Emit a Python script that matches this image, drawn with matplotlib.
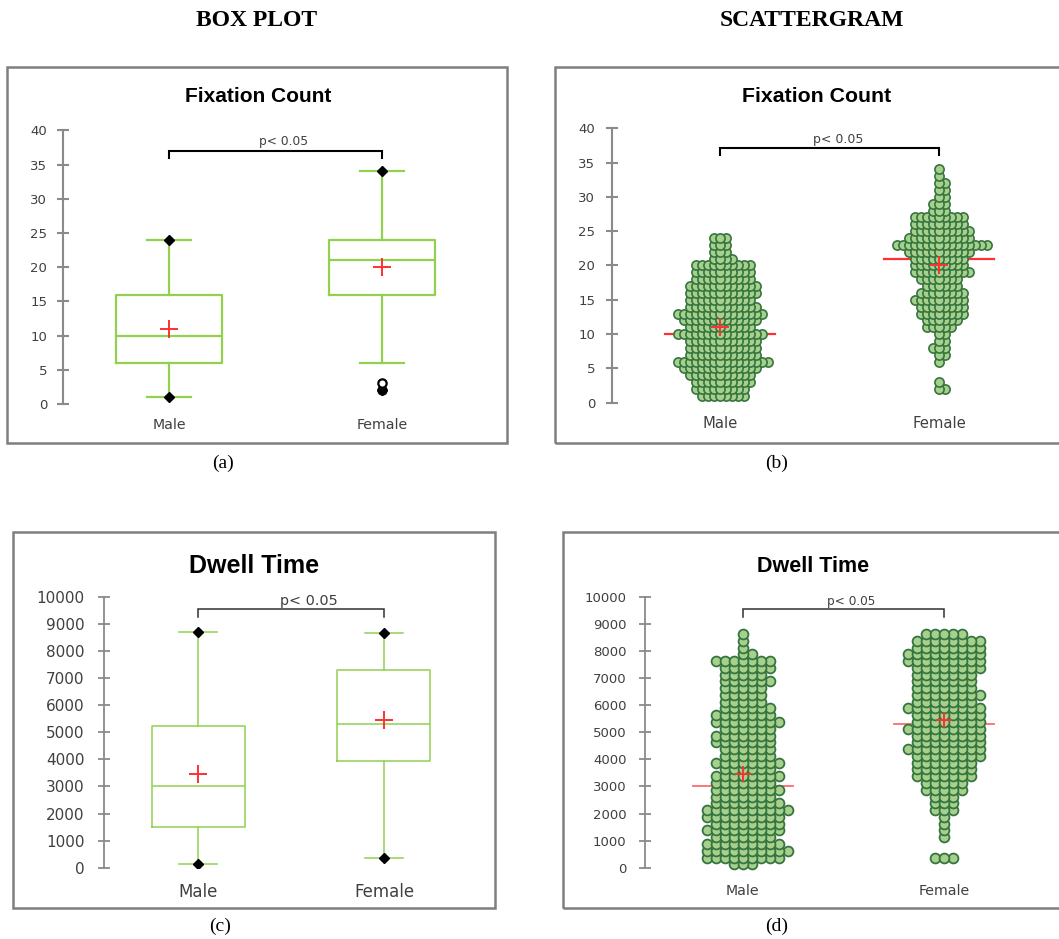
import numpy as np
import matplotlib.pyplot as plt
from matplotlib.patches import Rectangle

W, H = 1059, 939

groups = ['Male', 'Female']

# (a) fixation count box plot
fix_q1 = [6, 16]
fix_med = [10, 21]
fix_q3 = [16, 24]
fix_whislo = [1, 6]
fix_whishi = [24, 34]
fix_mean = [11, 20]
fix_min = [1, 2]
fix_max = [24, 34]
fix_out_filled = [[], [2]]
fix_out_open = [[], [3]]

# (b) fixation count scattergram: number of dots at each count value
fix_male_values = list(range(1, 25))
fix_male_counts = [8, 9, 10, 11, 13, 16, 12, 12, 12, 15, 11, 13,
                   15, 12, 11, 12, 12, 10, 10, 10, 4, 3, 3, 3]
fix_female_values = list(range(2, 35))
fix_female_counts = [2, 1, 0, 0, 1, 2, 3, 2, 2, 5, 6, 8, 8, 9, 8, 6, 7,
                     10, 9, 9, 11, 16, 11, 10, 9, 9, 3, 3, 2, 2, 2, 1, 1]

# (c) dwell time box plot (ms)
dwell_q1 = [1500, 3950]
dwell_med = [3000, 5300]
dwell_q3 = [5240, 7300]
dwell_whislo = [120, 350]
dwell_whishi = [8700, 8650]
dwell_mean = [3450, 5450]

# (d) dwell time scattergram: dots per 250 ms bin
dwell_bins = np.arange(125, 8750, 250)
dwell_male_counts = [3, 9, 10, 9, 7, 9, 8, 9, 10, 8, 7, 8, 7, 8, 6, 8, 6, 6,
                     7, 7, 6, 8, 7, 6, 5, 5, 5, 6, 5, 6, 7, 2, 1, 1, 1]
dwell_female_counts = [0, 3, 0, 0, 1, 1, 1, 1, 3, 3, 3, 5, 5, 7, 7, 7, 8, 9,
                       8, 8, 9, 8, 8, 9, 7, 8, 7, 7, 7, 8, 9, 9, 8, 8, 5]

green = '#92D050'
dot_face = '#A8D08D'
dot_edge = '#35753F'
red = '#FF3030'
axis_gray = '#8A8A8A'
text_gray = '#404040'

fig = plt.figure(figsize=(W / 100, H / 100), dpi=100)


def px_axes(x_axis, y_top, x_right, y_zero):
    return fig.add_axes([x_axis / W, 1 - y_zero / H,
                         (x_right - x_axis) / W, (y_zero - y_top) / H])


def style(ax, x_axis, x_male, x_female, x_right, ymax, yticks,
          tick_fs, cat_fs, tick_pad, cat_pad, lw):
    scale = x_female - x_male
    ax.set_xlim(1 - (x_male - x_axis) / scale, 2 + (x_right - x_female) / scale)
    ax.set_ylim(0, ymax)
    for s in ['top', 'right', 'bottom']:
        ax.spines[s].set_visible(False)
    ax.spines['left'].set_color(axis_gray)
    ax.spines['left'].set_linewidth(lw)
    ax.set_yticks(yticks)
    ax.tick_params(axis='y', direction='inout', length=8.5, width=lw,
                   color=axis_gray, labelcolor=text_gray, labelsize=tick_fs,
                   pad=tick_pad)
    ax.set_xticks([1, 2], groups)
    ax.tick_params(axis='x', length=0, labelsize=cat_fs, pad=cat_pad,
                   labelcolor=text_gray)
    ax.patch.set_alpha(0)
    return scale


def frame(x0, y0, x1, y1):
    fig.add_artist(Rectangle((x0 / W, 1 - y1 / H), (x1 - x0) / W, (y1 - y0) / H,
                             transform=fig.transFigure, fill=False,
                             ec='#7F7F7F', lw=1.8))


def bracket(ax, y, drop, text_x, text_y, fs, lw, color):
    ax.plot([1, 1, 2, 2], [drop, y, y, drop], color=color, lw=lw,
            clip_on=False, solid_joinstyle='miter')
    ax.text(text_x, text_y, 'p< 0.05', ha='center', va='center',
            fontsize=fs, color=text_gray, clip_on=False)


def swarm(values, counts, step_px, scale):
    xs, ys = [], []
    for v, n in zip(values, counts):
        row = [0]
        k = 1
        while len(row) < n:
            row.append(k * step_px)
            if len(row) < n:
                row.append(-k * step_px)
            k += 1
        for o in row[:n]:
            xs.append(o / scale)
            ys.append(v)
    xs, ys = np.array(xs), np.array(ys)
    order = np.argsort(-np.abs(xs), kind='stable')
    return xs[order], ys[order]


def box_panel(ax, q1, med, q3, lo, hi, mean, w, cw, lw):
    stats = []
    for i in range(2):
        stats.append(dict(q1=q1[i], med=med[i], q3=q3[i], whislo=lo[i],
                          whishi=hi[i], mean=mean[i], fliers=[]))
    ax.bxp(stats, positions=[1, 2], widths=w, capwidths=cw, showmeans=True,
           showfliers=False, manage_ticks=False,
           boxprops=dict(color=green, lw=lw), whiskerprops=dict(color=green, lw=lw),
           capprops=dict(color=green, lw=lw), medianprops=dict(color=green, lw=lw),
           meanprops=dict(marker='+', markeredgecolor=red, markersize=13,
                          markeredgewidth=1.4))


# ---------------- (a) box plot, fixation count
ax = px_axes(63, 130.3, 500, 404)
sc = style(ax, 63, 169, 382, 500, 40, range(0, 41, 5), 9.5, 10.2, 7.2, 10, 1.5)
box_panel(ax, fix_q1, fix_med, fix_q3, fix_whislo, fix_whishi, fix_mean,
          106 / sc, 44 / sc, 1.6)
ax.plot([1, 2], [fix_max[0], fix_max[1]], 'D', color='black', ms=5, zorder=4)
ax.plot([1, 2], [fix_min[0], fix_min[1]], 'D', color='black', ms=5, zorder=4)
for i in range(2):
    for v in fix_out_filled[i]:
        ax.plot(i + 1, v, 'o', color='black', ms=6.5, zorder=5)
    for v in fix_out_open[i]:
        ax.plot(i + 1, v, 'o', mfc='white', mec='black', mew=1.6, ms=6, zorder=6)
bracket(ax, 37.0, 35.9, 1.54, 38.3, 8.8, 1.5, 'black')

# ---------------- (b) scattergram, fixation count
ax = px_axes(611.7, 128.3, 1059, 402.7)
sc = style(ax, 611.7, 720.3, 939.3, 1059, 40, range(0, 41, 5), 9.5, 10.6, 7.7, 9.5, 1.5)
for i, (vals, cnts) in enumerate([(fix_male_values, fix_male_counts),
                                  (fix_female_values, fix_female_counts)]):
    half = 55 / sc
    ax.plot([i + 1 - half, i + 1 + half], [fix_med[i]] * 2, color=red, lw=1.6, zorder=1)
    xs, ys = swarm(vals, cnts, 6, sc)
    ax.scatter(i + 1 + xs, ys, s=44, facecolor=dot_face, edgecolor=dot_edge,
               linewidth=1.2, zorder=2, clip_on=False)
    ax.plot(i + 1, fix_mean[i], '+', mec=red, ms=13, mew=1.4, zorder=3)
bracket(ax, 37.1, 36.1, 1.537, 38.4, 9, 1.5, 'black')

# ---------------- (c) box plot, dwell time
ax = px_axes(104, 596.7, 490, 867.7)
sc = style(ax, 104, 198, 384, 490, 10000, range(0, 10001, 1000), 11, 12, 9.7, 11, 1.3)
box_panel(ax, dwell_q1, dwell_med, dwell_q3, dwell_whislo, dwell_whishi,
          dwell_mean, 93 / sc, 38 / sc, 1.1)
ax.plot([1, 2], dwell_whishi, 'D', color='black', ms=5, zorder=4)
ax.plot([1, 2], dwell_whislo, 'D', color='black', ms=5, zorder=4)
bracket(ax, 9546, 9251, 1.597, 9830, 10.4, 1.1, '#303030')

# ---------------- (d) scattergram, dwell time
ax = px_axes(645, 596.7, 1059, 867.7)
sc = style(ax, 645, 742.7, 944, 1059, 10000, range(0, 10001, 1000), 9.5, 10.2, 9, 11.5, 1.3)
for i, cnts in enumerate([dwell_male_counts, dwell_female_counts]):
    half = 50 / sc
    ax.plot([i + 1 - half, i + 1 + half], [dwell_med[i]] * 2, color='#FF6B6B',
            lw=1.3, zorder=1)
    xs, ys = swarm(dwell_bins, cnts, 9, sc)
    ax.scatter(i + 1 + xs, ys, s=50, facecolor=dot_face, edgecolor=dot_edge,
               linewidth=1.3, zorder=2, clip_on=False)
    ax.plot(i + 1, dwell_mean[i], '+', mec=red, ms=12, mew=1.4, zorder=3)
bracket(ax, 9546, 9251, 1.538, 9830, 8.7, 1.1, '#303030')

# frames, titles, captions
frame(7, 67, 507, 443)
frame(555, 67, 1065, 443)
frame(13, 532, 495, 908)
frame(563, 532, 1065, 908)

title_kw = dict(ha='center', va='center', fontweight='bold',
                family='Liberation Sans', color='black')
fig.text(258 / W, 1 - 97 / H, 'Fixation Count', fontsize=15, **title_kw)
fig.text(817 / W, 1 - 97 / H, 'Fixation Count', fontsize=15.3, **title_kw)
fig.text(254 / W, 1 - 566 / H, 'Dwell Time', fontsize=18, **title_kw)
fig.text(813 / W, 1 - 566 / H, 'Dwell Time', fontsize=15.5, **title_kw)

serif = dict(ha='center', va='center', family='Liberation Serif', color='black')
fig.text(257 / W, 1 - 20 / H, 'BOX PLOT', fontsize=17, fontweight='bold', **serif)
fig.text(812 / W, 1 - 20 / H, 'SCATTERGRAM', fontsize=17, fontweight='bold', **serif)
for lab, x, y in [('(a)', 223, 463), ('(b)', 777, 463), ('(c)', 220, 926), ('(d)', 777, 926)]:
    fig.text(x / W, 1 - y / H, lab, fontsize=14, **serif)

fig.savefig('out.png', dpi=100)
